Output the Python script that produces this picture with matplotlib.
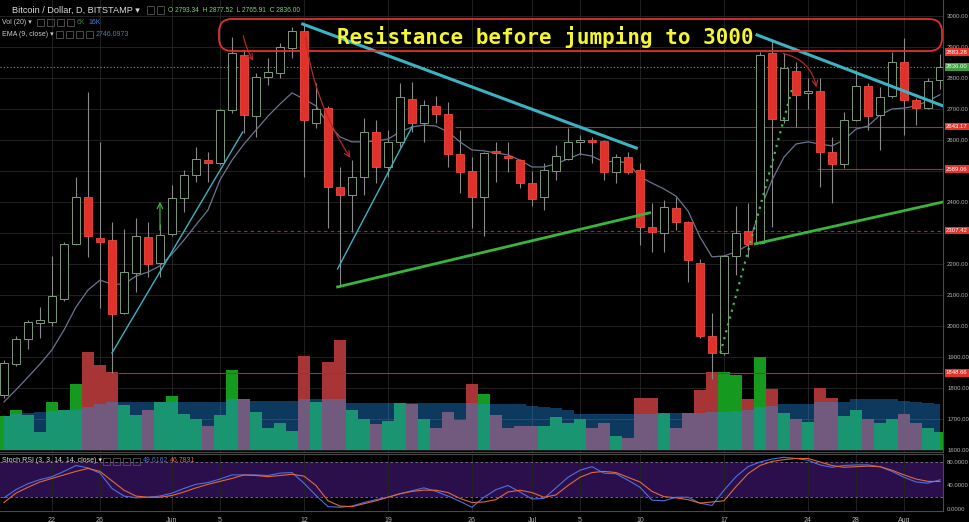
import pandas as pd
import matplotlib
matplotlib.use("Agg")
import matplotlib.pyplot as plt
from matplotlib.patches import FancyBboxPatch, Rectangle

plt.rcParams['font.family'] = ['Liberation Sans', 'DejaVu Sans']

# daily candles, Bitstamp BTC/USD, 18 May - 4 Aug 2017
dates = pd.date_range("2017-05-18", "2017-08-04", freq="D")

opens = [1777, 1877, 1958, 2010, 2013, 2087, 2265, 2416, 2283, 2277,
         2042, 2171, 2287, 2203, 2297, 2413, 2487, 2535, 2526, 2697,
         2874, 2677, 2803, 2816, 2897, 2952, 2655, 2703, 2448, 2423,
         2481, 2626, 2513, 2594, 2732, 2655, 2710, 2684, 2555, 2500,
         2416, 2563, 2548, 2535, 2461, 2416, 2500, 2539, 2594, 2600,
         2597, 2497, 2545, 2503, 2319, 2300, 2381, 2335, 2203, 1968,
         1913, 2226, 2306, 2268, 2881, 2665, 2823, 2753, 2758, 2561,
         2523, 2665, 2774, 2681, 2742, 2852, 2729, 2703, 2793.34]
highs = [1890, 1968, 2019, 2061, 2226, 2271, 2481, 2755, 2594, 2335,
         2313, 2348, 2335, 2330, 2455, 2503, 2577, 2561, 2700, 2932,
         2890, 2816, 2865, 2913, 2965, 2971, 2784, 2710, 2513, 2535,
         2671, 2665, 2632, 2784, 2787, 2729, 2742, 2723, 2632, 2545,
         2560, 2594, 2594, 2540, 2500, 2526, 2584, 2639, 2616, 2610,
         2600, 2555, 2561, 2526, 2397, 2406, 2416, 2340, 2216, 2042,
         2229, 2387, 2397, 2884, 2923, 2881, 2852, 2800, 2800, 2610,
         2690, 2826, 2784, 2771, 2884, 2929, 2735, 2800, 2877.52]
lows = [1768, 1870, 1925, 1961, 2000, 2080, 2261, 2223, 2058, 1849,
        2039, 2110, 2158, 2158, 2290, 2368, 2465, 2465, 2520, 2687,
        2623, 2610, 2777, 2800, 2865, 2481, 2639, 2316, 2126, 2303,
        2423, 2461, 2481, 2577, 2626, 2594, 2655, 2513, 2429, 2316,
        2290, 2465, 2497, 2445, 2387, 2374, 2471, 2535, 2552, 2526,
        2471, 2461, 2490, 2261, 2239, 2239, 2310, 2142, 1960, 1829,
        1905, 2165, 2223, 2265, 2319, 2655, 2642, 2700, 2448, 2397,
        2510, 2660, 2632, 2568, 2735, 2616, 2648, 2700, 2765.91]
closes = [1881, 1958, 2013, 2018, 2097, 2265, 2416, 2290, 2271, 2039,
          2174, 2290, 2200, 2294, 2413, 2487, 2539, 2525, 2697, 2881,
          2681, 2803, 2819, 2900, 2952, 2665, 2700, 2448, 2423, 2481,
          2626, 2513, 2594, 2739, 2655, 2713, 2684, 2555, 2497, 2416,
          2558, 2558, 2542, 2461, 2410, 2503, 2548, 2594, 2600, 2595,
          2497, 2545, 2497, 2319, 2303, 2384, 2335, 2213, 1968, 1913,
          2226, 2300, 2264, 2874, 2668, 2832, 2745, 2757, 2561, 2523,
          2665, 2774, 2677, 2739, 2852, 2729, 2703, 2790, 2836.00]

# volume in thousands BTC and its 20-day average
volume_k = [30, 36, 31, 16, 43, 36, 59, 87, 76, 69,
            40, 31, 36, 43, 48, 32, 28, 21, 31, 71,
            45, 34, 20, 24, 17, 84, 43, 78, 98, 36,
            28, 23, 26, 42, 41, 28, 20, 34, 27, 59,
            50, 31, 20, 21, 21, 21, 29, 24, 28, 20,
            24, 12, 11, 46, 46, 33, 20, 33, 53, 69,
            69, 67, 45, 83, 54, 33, 28, 25, 55, 46,
            30, 36, 28, 24, 28, 32, 24, 20, 16]
vol_ma_k = [30, 32, 33, 34, 35, 36, 36, 38, 41, 43,
            43, 43, 43, 43, 43, 43, 43, 43, 43, 45,
            45, 44, 44, 44, 44, 45, 45, 45, 45, 42,
            42, 42, 42, 42, 42, 42, 42, 42, 42, 42,
            41, 41, 41, 41, 39, 38, 37, 36, 32, 32,
            32, 32, 32, 32, 32, 32, 33, 33, 33, 34,
            34, 35, 36, 38, 39, 41, 41, 41, 43, 43,
            43, 45, 45, 45, 45, 44, 43, 42, 41]

ema9 = [1755, 1794, 1835, 1877, 1923, 1987, 2061, 2116, 2148, 2135,
        2135, 2161, 2174, 2194, 2232, 2277, 2326, 2374, 2471, 2535,
        2587, 2632, 2677, 2716, 2752, 2732, 2710, 2652, 2610, 2594,
        2594, 2597, 2603, 2626, 2642, 2648, 2645, 2626, 2594, 2568,
        2565, 2558, 2552, 2535, 2513, 2513, 2523, 2539, 2555, 2548,
        2529, 2532, 2526, 2481, 2461, 2442, 2419, 2371, 2287, 2223,
        2226, 2239, 2261, 2374, 2471, 2545, 2587, 2594, 2587, 2581,
        2600, 2635, 2645, 2681, 2700, 2703, 2710, 2726, 2746.1]

stoch_k = [19, 33, 43, 50, 55, 64, 74, 70, 61, 35,
           22, 19, 20, 22, 27, 35, 42, 45, 51, 58,
           58, 58, 57, 61, 62, 44, 23, 4, 3, 5,
           11, 16, 20, 26, 31, 36, 30, 22, 13, 3,
           20, 33, 40, 29, 17, 18, 36, 54, 66, 72,
           61, 60, 49, 37, 15, 14, 20, 20, 10, 6,
           32, 55, 72, 80, 85, 88, 86, 83, 75, 71,
           74, 75, 75, 72, 64, 54, 46, 44, 49.6]
stoch_d = [11, 27, 37, 46, 52, 58, 64, 69, 64, 48,
           32, 22, 20, 20, 23, 29, 36, 42, 47, 52,
           58, 57, 55, 57, 59, 56, 40, 14, 5, 4,
           9, 14, 20, 26, 30, 32, 32, 28, 18, 11,
           12, 16, 29, 32, 28, 20, 24, 40, 54, 62,
           64, 62, 54, 46, 30, 21, 19, 16, 10, 12,
           14, 38, 60, 74, 81, 84, 86, 86, 80, 74,
           71, 72, 73, 72, 66, 58, 51, 47, 46.8]

tick_dates = ["2017-05-22", "2017-05-26", "2017-06-01", "2017-06-05", "2017-06-12",
              "2017-06-19", "2017-06-26", "2017-07-01", "2017-07-05", "2017-07-10",
              "2017-07-17", "2017-07-24", "2017-07-28", "2017-08-01"]
tick_labels = ["22", "26", "Jun", "5", "12", "19", "26", "Jul", "5", "10",
               "17", "24", "28", "Aug"]
price_grid = list(range(1600, 3001, 100))
price_labels = [1600, 1700, 1800, 1900, 2000, 2100, 2200, 2400, 2600, 2700, 2800, 2900, 3000]
# drawn horizontal levels: (label shown on the scale, where the line sits)
level_labels = ["2883.28", "2643.17", "2589.06", "2307.42", "1848.66"]
level_y = [2883.28, 2643.17, 2506, 2307.42, 1848.66]
last_close = 2836.00

x = list(range(len(dates)))
tick_pos = [dates.get_loc(pd.Timestamp(d)) for d in tick_dates]

W, H = 970, 522
BG = "#000000"
GRID = "#222222"
TXT = "#b4b4b4"
YLO, YHI = 1593.5, 3051.6


def rect(x0, y0, x1, y1):
    return [x0 / W, 1 - y1 / H, (x1 - x0) / W, (y1 - y0) / H]


fig = plt.figure(figsize=(W / 100, H / 100), dpi=100, facecolor=BG)
main_rect = rect(0, 0, 943, 452)
ax_bg = fig.add_axes(main_rect)
ax_vol = fig.add_axes(main_rect, sharex=ax_bg)
ax = fig.add_axes(main_rect, sharex=ax_bg, sharey=ax_bg)
ax_st = fig.add_axes(rect(0, 454, 943, 511), sharex=ax_bg)

ax_bg.set_facecolor(BG)
ax_bg.set_xlim(-0.33, 78.25)
ax_bg.set_ylim(YLO, YHI)
ax_bg.set_yticks(price_grid)
ax_bg.set_yticklabels([f"{p:.2f}" if p in price_labels else "" for p in price_grid])
ax_bg.yaxis.tick_right()
ax_bg.tick_params(axis="y", length=0, pad=3, labelsize=4.3, labelcolor=TXT)
ax_bg.tick_params(axis="x", bottom=False, labelbottom=False)
ax_bg.set_xticks(tick_pos)
ax_bg.grid(True, color=GRID, lw=0.7)
for s in ["top", "left"]:
    ax_bg.spines[s].set_visible(False)
for s in ["right", "bottom"]:
    ax_bg.spines[s].set_color("#4a4a4a")

# volume + 20 day average (translucent blue on top of the bars)
vol_cols = ["#15991f" if c >= o else "#a83535" for o, c in zip(opens, closes)]
ax_vol.bar(x, volume_k, width=1.0, color=vol_cols, linewidth=0)
ax_vol.fill_between(x, 0, vol_ma_k, step="mid", color="#2391ee", alpha=0.4, lw=0)
ax_vol.set_ylim(-1.8, 400.4)
ax_vol.axis("off")
ax_vol.patch.set_visible(False)

# candles
ax.axis("off")
ax.patch.set_visible(False)
ax.vlines(x, lows, highs, color="#8a8a8a", lw=0.8, zorder=2)
up = [i for i in x if closes[i] >= opens[i]]
dn = [i for i in x if closes[i] < opens[i]]
ax.bar(up, [max(closes[i] - opens[i], 5) for i in up], bottom=[opens[i] for i in up],
       width=0.62, facecolor=BG, edgecolor="#7f9a7f", lw=0.7, zorder=3)
ax.bar(dn, [max(opens[i] - closes[i], 5) for i in dn], bottom=[closes[i] for i in dn],
       width=0.62, facecolor="#e0322b", edgecolor="#ef4a40", lw=0.6, zorder=3)
ax.plot(x, ema9, color="#6a7590", lw=0.9, zorder=2)

# horizontal levels
ax.hlines(level_y[1], 37.6, 78.25, color="#b52828", lw=0.8, zorder=1)
ax.hlines(level_y[2], 67.75, 78.25, color="#b52828", lw=0.8, zorder=1)
ax.hlines(level_y[3], 14.4, 78.25, color="#b52828", lw=0.8, ls=(0, (3, 3)), zorder=1)
ax.hlines(level_y[4], 9.5, 78.25, color="#b52828", lw=0.8, zorder=1)
ax.axhline(last_close, color="#4fbf4f", lw=0.8, ls=(0, (1, 2)), zorder=1)

# drawn trend lines
cyan = "#3bb3c3"
ax.plot([24.9, 52.7], [2974, 2574], color=cyan, lw=2.2, zorder=4)
ax.plot([62.75, 78.25], [2939, 2710], color=cyan, lw=2.2, zorder=4)
ax.plot([9.0, 19.9], [1913, 2626], color=cyan, lw=1.0, zorder=4)
ax.plot([27.8, 34.0], [2184, 2642], color=cyan, lw=1.0, zorder=4)
ax.plot([27.8, 53.8], [2126, 2365], color="#39b43c", lw=2.0, zorder=4)
ax.plot([62.6, 78.25], [2265, 2400], color="#39b43c", lw=2.0, zorder=4)
ax.plot([59.7, 65.7], [1913, 2768], color="#3fc04a", lw=1.6, ls=(0, (1, 2.2)), zorder=4)

arrow_red = dict(arrowstyle="->", color="#b42a2a", lw=0.9)
ax.annotate("", xy=(20.9, 2848), xytext=(19.9, 2945),
            arrowprops=dict(arrow_red, connectionstyle="arc3,rad=0.1"), zorder=5)
ax.annotate("", xy=(29.0, 2535), xytext=(25.1, 2939),
            arrowprops=dict(arrow_red, connectionstyle="arc3,rad=0.12"), zorder=5)
ax.annotate("", xy=(67.75, 2761), xytext=(64.7, 2881),
            arrowprops=dict(arrow_red, connectionstyle="arc3,rad=-0.35"), zorder=5)
ax.annotate("", xy=(13.0, 2410), xytext=(13.0, 2300),
            arrowprops=dict(arrowstyle="->", color="#3fae3f", lw=0.9), zorder=5)

# price labels on the right scale
tags = [(lbl, y, "#e3342c") for lbl, y in zip(level_labels, level_y)]
tags.append((f"{last_close:.2f}", last_close, "#3c9e3c"))
for lbl, y, fc in tags:
    ax.text(1.003, (y - YLO) / (YHI - YLO), lbl, transform=ax.transAxes,
            ha="left", va="center", fontsize=4.3, color="white", clip_on=False, zorder=6,
            bbox=dict(boxstyle="square,pad=0.2", fc=fc, ec="none"))

# resistance box
box = FancyBboxPatch((219 / 100, (H - 51) / 100), (942 - 219) / 100, 32 / 100,
                     boxstyle="round,pad=0,rounding_size=0.13", transform=fig.dpi_scale_trans,
                     fill=False, edgecolor="#e03030", lw=1.3)
fig.add_artist(box)
fig.text(545 / W, 1 - 37 / H, "Resistance before jumping to 3000", ha="center", va="center",
         fontsize=15, fontweight="bold", family="DejaVu Sans Mono", color="#f5f531")

# stochastic RSI panel
ax_st.set_facecolor(BG)
ax_st.axhspan(20, 80, color="#2a0f4c", lw=0)
ax_st.axhline(80, color="#7a7a7a", lw=0.6, ls=(0, (3, 3)))
ax_st.axhline(20, color="#7a7a7a", lw=0.6, ls=(0, (3, 3)))
ax_st.plot(x, stoch_k, color="#4f6fe0", lw=0.8)
ax_st.plot(x, stoch_d, color="#e0693c", lw=0.8)
ax_st.set_ylim(-3.4, 93.6)
ax_st.set_yticks([0, 40, 80])
ax_st.set_yticklabels(["0.0000", "40.0000", "80.0000"])
ax_st.yaxis.tick_right()
ax_st.set_xticks(tick_pos)
ax_st.set_xticklabels(tick_labels)
ax_st.tick_params(axis="y", length=0, pad=3, labelsize=4.3, labelcolor=TXT)
ax_st.tick_params(axis="x", length=0, pad=4, labelsize=5, labelcolor=TXT)
ax_st.grid(True, axis="x", color=GRID, lw=0.7)
for s in ["top", "bottom", "right"]:
    ax_st.spines[s].set_color("#4a4a4a")
ax_st.spines["left"].set_visible(False)


def ftxt(px, py, s, **kw):
    fig.text(px / W, 1 - py / H, s, va="center", ha="left", **kw)


def icons(px, py, n):
    for k in range(n):
        fig.add_artist(Rectangle(((px + 10 * k) / W, 1 - (py + 3.5) / H), 7 / W, 7 / H,
                                 transform=fig.transFigure, fill=False, ec="#555555", lw=0.6))


# header / legends
ftxt(12, 10, "Bitcoin / Dollar, D, BITSTAMP \u25be", fontsize=6.6, color="#dcdcdc")
icons(147, 10, 2)
ftxt(168, 10, "O 2793.34  H 2877.52  L 2765.91  C 2836.00", fontsize=4.8, color="#7fd07f")
ftxt(2, 22, "Vol (20) \u25be", fontsize=5, color="#cccccc")
icons(37, 22, 4)
ftxt(77, 22, "6K", fontsize=5, color="#2f8f34")
ftxt(88, 22, "16K", fontsize=5, color="#4a7fd8")
ftxt(2, 34, "EMA (9, close) \u25be", fontsize=5, color="#cccccc")
icons(56, 34, 4)
ftxt(96, 34, "2746.0973", fontsize=5, color="#5a78b4")
ftxt(2, 461, "Stoch RSI (3, 3, 14, 14, close) \u25be", fontsize=5, color="#dddddd")
icons(103, 461, 4)
ftxt(143, 461, "49.6162", fontsize=5, color="#4f6fe0")
ftxt(170, 461, "46.7831", fontsize=5, color="#e0693c")

fig.savefig("out.png", dpi=100, facecolor=BG)
